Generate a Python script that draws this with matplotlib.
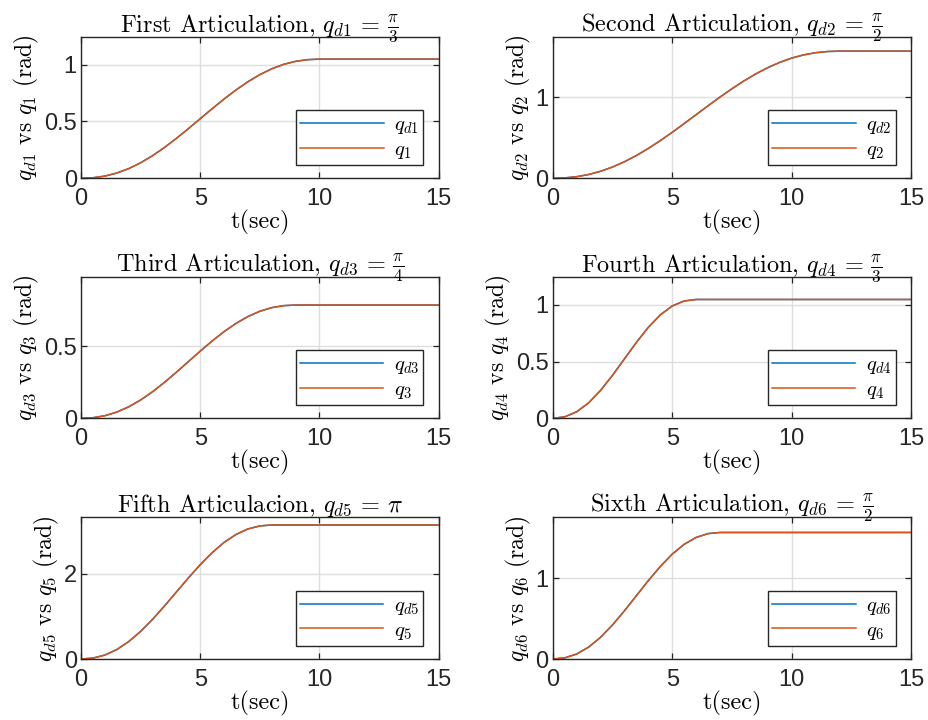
import numpy as np
import matplotlib
matplotlib.use("Agg")
import matplotlib.pyplot as plt

# fuentes: texto tipo LaTeX (Computer Modern) y ejes tipo Arial
plt.rcParams["mathtext.fontset"] = "cm"
plt.rcParams["axes.unicode_minus"] = False

# ===================== datos: posiciones articulares (rad) =====================
# instantes de muestreo cada 0.5 s; cada serie usa los primeros len(q) valores
t_samples = [0.0, 0.5, 1.0, 1.5, 2.0, 2.5, 3.0, 3.5, 4.0, 4.5, 5.0, 5.5, 6.0,
             6.5, 7.0, 7.5, 8.0, 8.5, 9.0, 9.5, 10.0, 10.5, 11.0, 11.5, 12.0]
t_final = 15.0

q1 = [0.0, 0.0044, 0.0191, 0.0457, 0.0848, 0.1360, 0.1985, 0.2707, 0.3505,
      0.4357, 0.5236, 0.6115, 0.6967, 0.7765, 0.8487, 0.9112, 0.9624, 1.0015,
      1.0281, 1.0428, 1.0472]
q2 = [0.0, 0.0045, 0.0195, 0.0464, 0.0861, 0.1387, 0.2040, 0.2810, 0.3685,
      0.4647, 0.5677, 0.6754, 0.7854, 0.8955, 1.0031, 1.1062, 1.2023, 1.2898,
      1.3668, 1.4321, 1.4848, 1.5244, 1.5514, 1.5663, 1.5708]
q3 = [0.0, 0.0041, 0.0180, 0.0430, 0.0796, 0.1271, 0.1842, 0.2492, 0.3195,
      0.3927, 0.4659, 0.5362, 0.6012, 0.6583, 0.7058, 0.7424, 0.7674, 0.7813,
      0.7854]
q4 = [0.0, 0.0130, 0.0574, 0.1360, 0.2456, 0.3785, 0.5236, 0.6688, 0.8016,
      0.9112, 0.9898, 1.0342, 1.0472]
q5 = [0.0, 0.0211, 0.0927, 0.2216, 0.4080, 0.6471, 0.9293, 1.2421, 1.5708,
      1.8995, 2.2123, 2.4945, 2.7336, 2.9200, 3.0489, 3.1205, 3.1416]
q6 = [0.0, 0.0140, 0.0618, 0.1473, 0.2694, 0.4225, 0.5981, 0.7854, 0.9727,
      1.1483, 1.3015, 1.4235, 1.5090, 1.5568, 1.5708]

series = [q1, q2, q3, q4, q5, q6]
titles = [
    r"First Articulation, $q_{d1}\,=\,\frac{\pi}{3}$",
    r"Second Articulation, $q_{d2}\,=\,\frac{\pi}{2}$",
    r"Third Articulation, $q_{d3}\,=\,\frac{\pi}{4}$",
    r"Fourth Articulation, $q_{d4}\,=\,\frac{\pi}{3}$",
    r"Fifth Articulacion, $q_{d5}\,=\,\pi$",
    r"Sixth Articulation, $q_{d6}\,=\,\frac{\pi}{2}$",
]
y_ticks = [[0, 0.5, 1], [0, 1], [0, 0.5], [0, 0.5, 1], [0, 2], [0, 1]]
y_tops = [1.245, 1.75, 0.982, 1.248, 3.32, 1.758]
x_ticks = [0, 5, 10, 15]

# ===================== figura =====================
fig = plt.figure(figsize=(9.29, 7.2), dpi=100)
col_left = [0.0872, 0.595]
col_width = [0.385, 0.3857]
row_bottom = [0.7524, 0.419, 0.0847]
row_height = 0.1967

C_BLUE = "#0072BD"
C_ORANGE = "#D95319"
C_AX = "#262626"

for i, q in enumerate(series):
    r, c = divmod(i, 2)
    ax = fig.add_axes([col_left[c], row_bottom[r], col_width[c], row_height])
    n = i + 1
    t = list(t_samples[:len(q)]) + [t_final]
    qv = list(q) + [q[-1]]
    # la referencia q_d y la respuesta q coinciden; q se dibuja encima
    ax.plot(t, qv, color=C_BLUE, lw=1.1, label=rf"$q_{{d{n}}}$")
    ax.plot(t, qv, color=C_ORANGE, lw=1.1, label=rf"$q_{{{n}}}$")

    ax.set_xlim(0, 15)
    ax.set_ylim(0, y_tops[i])
    ax.set_xticks(x_ticks)
    ax.set_yticks(y_ticks[i])
    ax.set_xticklabels([str(v) for v in x_ticks])
    ax.set_yticklabels([("%g" % v) for v in y_ticks[i]])
    ax.grid(True, color="#dedede", lw=1.0)
    ax.set_axisbelow(True)
    ax.tick_params(direction="in", length=4, width=0.9, colors=C_AX,
                   labelsize=17, top=True, right=True)
    ax.tick_params(axis="x", pad=7)
    ax.tick_params(axis="y", pad=3)
    for lab in ax.get_xticklabels() + ax.get_yticklabels():
        lab.set_fontfamily("Liberation Sans")
    for sp in ax.spines.values():
        sp.set_color(C_AX)
        sp.set_linewidth(1.0)

    ax.set_title(titles[i], fontsize=17.5, family="cmr10", pad=4)
    ax.set_xlabel(r"t(sec)", fontsize=17.5, family="cmr10", labelpad=0)
    ax.set_ylabel(rf"$q_{{d{n}}}$ vs $q_{{{n}}}$ (rad)", fontsize=17,
                  family="cmr10", labelpad=2)

    leg = ax.legend(loc="lower right", bbox_to_anchor=(0.957, 0.094),
                    borderaxespad=0, fontsize=15, handlelength=4.0,
                    fancybox=False, framealpha=1, edgecolor=C_AX,
                    labelspacing=0.12, borderpad=0.2, handletextpad=0.5)
    leg.get_frame().set_linewidth(1.0)

fig.savefig("out.png", dpi=100)
